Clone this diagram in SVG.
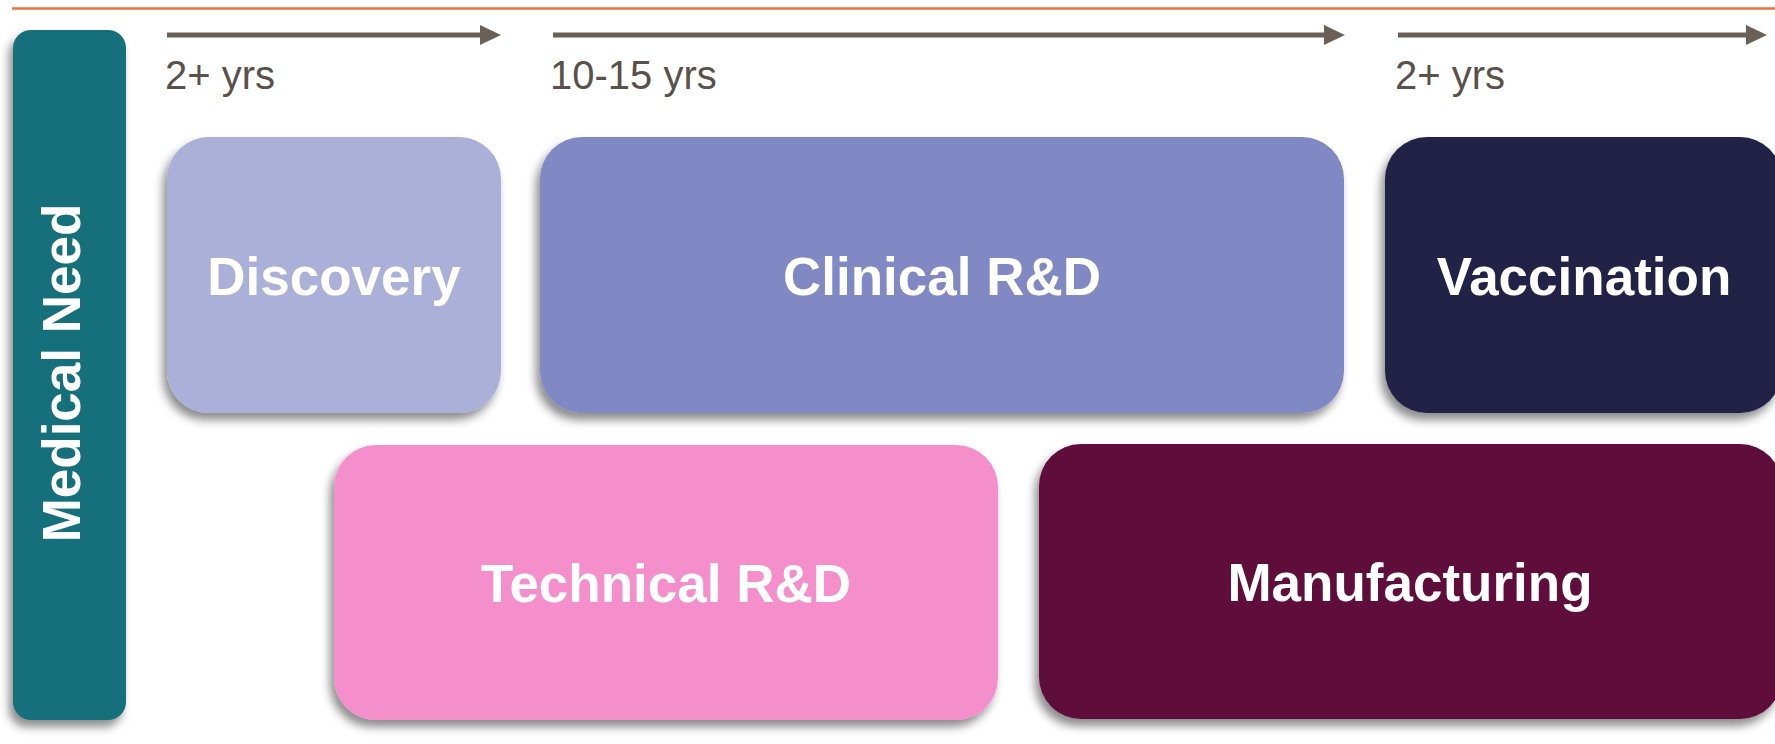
<svg xmlns="http://www.w3.org/2000/svg" width="1775" height="744" viewBox="0 0 1775 744">
<defs>
<filter id="sh" x="-10%" y="-10%" width="120%" height="130%">
<feDropShadow dx="-4" dy="7" stdDeviation="5" flood-color="#000" flood-opacity="0.45"/>
</filter>
<marker id="ah" markerUnits="userSpaceOnUse" markerWidth="22" markerHeight="22" refX="0" refY="10" orient="auto">
<polygon points="0,0 21,10 0,20" fill="#6B6057"/>
</marker>
<style>
.lbl{font-family:"Liberation Sans",Arial,sans-serif;font-size:40px;fill:#59514A}
.nt{font-family:"Liberation Sans",Arial,sans-serif;font-size:53px;font-weight:bold;fill:#FFFFFF;text-anchor:middle}
.arr{stroke:#6B6057;stroke-width:5;fill:none}
</style>
</defs>
<rect width="1775" height="744" fill="#FFFFFF"/>
<line x1="12" y1="8.5" x2="1775" y2="8.5" stroke="#EE7040" stroke-width="2.5"/>
<g id="connectors">
<line class="arr" x1="167" y1="35" x2="480" y2="35" marker-end="url(#ah)"/>
<line class="arr" x1="553" y1="35" x2="1324" y2="35" marker-end="url(#ah)"/>
<line class="arr" x1="1398" y1="35" x2="1746" y2="35" marker-end="url(#ah)"/>
</g>
<g id="labels">
<text class="lbl" x="165" y="89">2+ yrs</text>
<text class="lbl" x="550" y="89">10-15 yrs</text>
<text class="lbl" x="1395" y="89">2+ yrs</text>
</g>
<g id="medical-need">
<rect x="13" y="30" width="113" height="690" rx="18" fill="#17707C" filter="url(#sh)"/>
<text class="nt" transform="translate(80,373) rotate(-90)">Medical Need</text>
</g>
<g id="discovery">
<rect x="167" y="137" width="334" height="276" rx="42" fill="#AAB0D7" filter="url(#sh)"/>
<text class="nt" x="334" y="295">Discovery</text>
</g>
<g id="clinical">
<rect x="540" y="137" width="804" height="276" rx="42" fill="#8089C4" filter="url(#sh)"/>
<text class="nt" x="942" y="295">Clinical R&amp;D</text>
</g>
<g id="vaccination">
<rect x="1385" y="137" width="397" height="276" rx="42" fill="#222447" filter="url(#sh)"/>
<text class="nt" x="1584" y="295">Vaccination</text>
</g>
<g id="technical">
<rect x="334" y="445" width="664" height="275" rx="42" fill="#F48FCB" filter="url(#sh)"/>
<text class="nt" x="666" y="602">Technical R&amp;D</text>
</g>
<g id="manufacturing">
<rect x="1039" y="444" width="743" height="275" rx="42" fill="#5E0A3A" filter="url(#sh)"/>
<text class="nt" x="1410" y="601">Manufacturing</text>
</g>
</svg>
